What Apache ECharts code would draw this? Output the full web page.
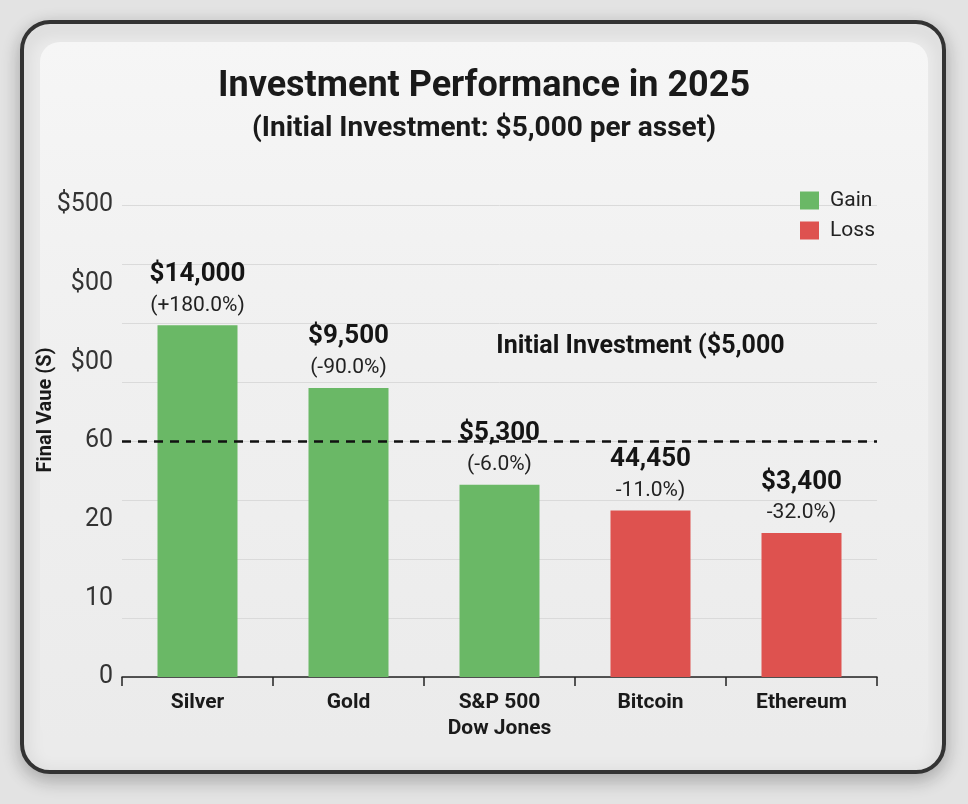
<!DOCTYPE html>
<html>
<head>
<meta charset="utf-8">
<title>Investment Performance in 2025</title>
<script src="https://cdn.jsdelivr.net/npm/echarts@6/dist/echarts.min.js"></script>
<style>
  html, body { margin: 0; padding: 0; background: #e3e3e3; }
  #chart { width: 968px; height: 804px; }
</style>
</head>
<body>
<div id="chart"></div>
<script>
// data (bar heights in gridline units, 1 unit = one grid band)
var assets = ["Silver", "Gold", "S&P 500\nDow Jones", "Bitcoin", "Ethereum"]
var gainValues = [5.96, 4.9, 3.26, "-", "-"]
var lossValues = ["-", "-", "-", 2.82, 2.44]
var valueLabels = ["$14,000", "$9,500", "$5,300", "44,450", "$3,400"]
var pctLabels = ["(+180.0%)", "(-90.0%)", "(-6.0%)", "-11.0%)", "-32.0%)"]
var yTickLabels = ["0", "10", "20", "60", "$00", "$00", "$500"]
var initialLine = 4.0

var GREEN = "#6ab866"
var RED = "#de524f"
var FONT = "Roboto, 'Noto Sans', sans-serif"

var chartDom = document.getElementById("chart")
var myChart = echarts.init(chartDom, null, { renderer: "canvas" })

var barLabel = {
  show: true,
  position: "top",
  distance: 5,
  formatter: function (p) {
    return "{v|" + valueLabels[p.dataIndex] + "}\n{p|" + pctLabels[p.dataIndex] + "}"
  },
  rich: {
    v: { fontFamily: FONT, fontSize: 26, fontWeight: "bold", color: "#151515", lineHeight: 32 },
    p: { fontFamily: FONT, fontSize: 21, color: "#222", lineHeight: 30 }
  }
}

var option = {
  backgroundColor: "#e3e3e3",
  textStyle: { fontFamily: FONT },
  graphic: [
    {
      type: "rect", z: -10, silent: true,
      shape: { x: 22, y: 22, width: 922, height: 750, r: 28 },
      style: { fill: "#ebebeb", stroke: "#333", lineWidth: 4, shadowBlur: 18, shadowColor: "rgba(0,0,0,0.25)", shadowOffsetY: 6 }
    },
    {
      type: "rect", z: -9, silent: true,
      shape: { x: 40, y: 42, width: 888, height: 700, r: 20 },
      style: {
        fill: new echarts.graphic.LinearGradient(0, 0, 0, 1, [
          { offset: 0, color: "#f6f6f6" },
          { offset: 0.35, color: "#f1f1f1" },
          { offset: 1, color: "#ebebeb" }
        ])
      }
    }
  ],
  title: {
    text: "Investment Performance in 2025",
    subtext: "(Initial Investment: $5,000 per asset)",
    left: "center",
    top: 64,
    itemGap: 10,
    textStyle: { fontFamily: FONT, fontSize: 36, fontWeight: "bold", color: "#1a1a1a" },
    subtextStyle: { fontFamily: FONT, fontSize: 28, fontWeight: "bold", color: "#1a1a1a" }
  },
  legend: {
    orient: "vertical",
    left: 795,
    top: 185,
    itemWidth: 19,
    itemHeight: 18,
    itemGap: 9,
    icon: "rect",
    textStyle: { fontFamily: FONT, fontSize: 21, color: "#222", lineHeight: 20, padding: [0, 0, 0, 6] },
    data: ["Gain", "Loss"]
  },
  grid: { left: 122, right: 91, top: 205, bottom: 127 },
  xAxis: {
    type: "category",
    data: assets,
    axisLine: { lineStyle: { color: "#222", width: 1.5 } },
    axisTick: { show: true, length: 9, lineStyle: { color: "#222", width: 1.5 } },
    axisLabel: { fontFamily: FONT, fontSize: 21, fontWeight: "bold", color: "#1a1a1a", margin: 13, lineHeight: 26 }
  },
  yAxis: [
    {
      // grid bands
      type: "value", min: 0, max: 8, interval: 1,
      axisLabel: { show: false },
      axisLine: { show: false },
      axisTick: { show: false },
      splitLine: { lineStyle: { color: "#dadada", width: 1 } },
      name: "Final Vaue (S)",
      nameLocation: "middle",
      nameRotate: 90,
      nameGap: 66,
      nameTextStyle: { fontFamily: FONT, fontSize: 20, fontWeight: "bold", color: "#1a1a1a", padding: [0, 0, 0, 62] }
    },
    {
      // tick labels
      type: "value", min: 0, max: 6, interval: 1, position: "left",
      axisLine: { show: false },
      axisTick: { show: false },
      splitLine: { show: false },
      axisLabel: {
        fontFamily: FONT, fontSize: 25, color: "#333", margin: 9,
        formatter: function (v) { return yTickLabels[Math.round(v)] }
      }
    }
  ],
  series: [
    {
      name: "Gain",
      type: "bar",
      stack: "all",
      barWidth: 80,
      data: gainValues,
      itemStyle: { color: GREEN },
      label: barLabel,
      markLine: {
        silent: true,
        symbol: "none",
        lineStyle: { color: "#111", type: [9, 7], width: 2.5 },
        label: {
          show: true,
          position: "insideMiddleTop",
          formatter: "Initial Investment ($5,000",
          fontFamily: FONT, fontSize: 25, fontWeight: "bold", color: "#151515",
          padding: [0, 0, 77, 282]
        },
        data: [{ yAxis: initialLine }]
      }
    },
    {
      name: "Loss",
      type: "bar",
      stack: "all",
      barWidth: 80,
      data: lossValues,
      itemStyle: { color: RED },
      label: barLabel
    }
  ]
}

myChart.setOption(option)

window.addEventListener("resize", () => {
  myChart.resize()
})
</script>
</body>
</html>
